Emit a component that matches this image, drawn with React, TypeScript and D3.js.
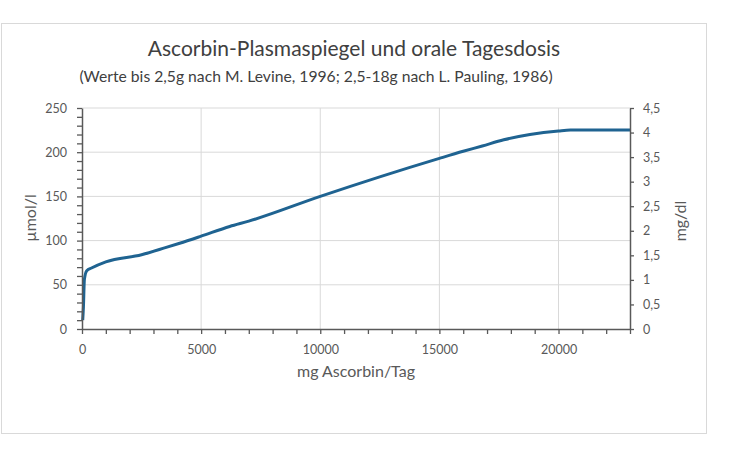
import React, { useEffect, useRef } from "react";
import * as d3 from "d3";

// Dosis (mg/Tag) und Plasmaspiegel (µmol/l)
const doseMg = [30, 60, 100, 200, 400, 1000, 2500, 3500, 4100, 5000, 6200, 7000, 10000, 15000, 16000, 16800, 17700, 18800, 20000, 20500, 23000];
const plasmaUmol = [10, 25, 56, 66, 69, 76, 84, 92, 97, 105, 116, 122, 150, 193, 201, 207, 214, 220, 224, 225, 225];

const xTicks = d3.range(0, 23001, 1000);
const yTicks = d3.range(0, 251, 10);
const y2Ticks = d3.range(0, 4.51, 0.5);
const gridX = [5000, 10000, 15000, 20000];
const gridY = [50, 100, 150, 200, 250];

const title = "Ascorbin-Plasmaspiegel und orale Tagesdosis";
const subtitle = "(Werte bis 2,5g nach M. Levine, 1996; 2,5-18g nach L. Pauling, 1986)";

const W = 743;
const H = 459;
const left = 82, right = 630, top = 108, bottom = 329;
const font = "Lato, 'Open Sans', sans-serif";
const textGray = "#595959";

export default function App() {
  const svgRef = useRef<SVGSVGElement>(null);

  const x = d3.scaleLinear().domain([0, 23000]).range([left, right]);
  const y = d3.scaleLinear().domain([0, 250]).range([bottom, top]);
  const y2 = d3.scaleLinear().domain([0, 4.5]).range([bottom, top]);

  useEffect(() => {
    const svg = d3.select(svgRef.current);
    const comma = (d: number) => String(d).replace(".", ",");

    const xAxis = d3.axisBottom(x)
      .tickValues(xTicks)
      .tickFormat((d: any) => (d % 5000 === 0 ? String(d) : ""))
      .tickSize(5)
      .tickSizeOuter(0)
      .tickPadding(11);
    svg.select<SVGGElement>(".x-axis").attr("transform", `translate(0,${bottom})`).call(xAxis);

    const yAxis = d3.axisLeft(y)
      .tickValues(yTicks)
      .tickFormat((d: any) => (d % 50 === 0 ? String(d) : ""))
      .tickSize(5)
      .tickSizeOuter(0)
      .tickPadding(10);
    svg.select<SVGGElement>(".y-axis").attr("transform", `translate(${left},0)`).call(yAxis);

    const y2Axis = d3.axisRight(y2)
      .tickValues(y2Ticks)
      .tickFormat((d: any) => comma(d))
      .tickSize(4)
      .tickSizeOuter(0)
      .tickPadding(9);
    svg.select<SVGGElement>(".y2-axis").attr("transform", `translate(${right},0)`).call(y2Axis);

    svg.selectAll(".axis path").attr("stroke", "#595959").attr("stroke-width", 1.5);
    svg.selectAll(".axis line").attr("stroke", "#595959").attr("stroke-width", 1.3);
    svg.selectAll(".axis text")
      .attr("fill", textGray)
      .style("font-family", font)
      .style("font-size", "12.5px");
  }, []);

  const points = doseMg.map((d, i) => [d, plasmaUmol[i]] as [number, number]);
  const line = d3.line<[number, number]>()
    .x(d => x(d[0]))
    .y(d => y(d[1]))
    .curve(d3.curveMonotoneX);

  return (
    <svg ref={svgRef} width={W} height={H}
      style={{ position: "absolute", left: 0, top: 0, background: "#fff" }}>
      <rect x={1.5} y={23.5} width={705} height={410} fill="#fff" stroke="#d9d9d9" />
      {gridY.map(v => (
        <line key={"gy" + v} x1={left} x2={right} y1={y(v)} y2={y(v)} stroke="#d9d9d9" />
      ))}
      {gridX.map(v => (
        <line key={"gx" + v} x1={x(v)} x2={x(v)} y1={top} y2={bottom} stroke="#d9d9d9" />
      ))}
      <text x={354} y={56} textAnchor="middle" fill="#404040"
        style={{ fontFamily: font, fontSize: 21 }}>{title}</text>
      <text x={316} y={82} textAnchor="middle" fill="#404040"
        style={{ fontFamily: font, fontSize: 15.7 }}>{subtitle}</text>
      <path d={line(points) || ""} fill="none" stroke="#1f6391" strokeWidth={3} strokeLinejoin="round" />
      <g className="axis x-axis" />
      <g className="axis y-axis" />
      <g className="axis y2-axis" />
      <text transform="translate(36,218) rotate(-90)" textAnchor="middle" fill={textGray}
        style={{ fontFamily: font, fontSize: 16 }}>µmol/l</text>
      <text transform="translate(686,221) rotate(-90)" textAnchor="middle" fill={textGray}
        style={{ fontFamily: font, fontSize: 16 }}>mg/dl</text>
      <text x={356} y={377} textAnchor="middle" fill={textGray}
        style={{ fontFamily: font, fontSize: 16 }}>mg Ascorbin/Tag</text>
    </svg>
  );
}
